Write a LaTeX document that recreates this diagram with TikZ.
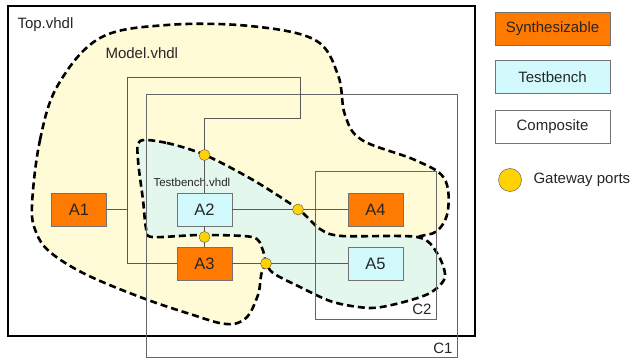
\documentclass[tikz,border=0pt]{standalone}
\usepackage{fontspec}
\setmainfont{Liberation Sans}
\begin{document}
\begin{tikzpicture}[x=1pt,y=-1pt,
  font=\fontsize{15}{17}\selectfont,
  txt/.style={text=black!85},
  wire/.style={draw=black!65,line width=0.8pt},
  frame/.style={draw=black!60,line width=0.9pt},
  blob/.style={draw=black,line width=2.6pt,dash pattern=on 7pt off 4pt},
  synth/.style={draw=black!55,line width=0.8pt,fill=orange8,minimum width=55pt,minimum height=33pt,inner sep=0pt,font=\fontsize{16.5}{18}\selectfont,text=black!85},
  tbench/.style={synth,fill=cyan8},
  legbox/.style={draw=black!55,line width=0.8pt,minimum width=115pt,minimum height=33pt,inner sep=0pt,text=black!85},
  port/.style={circle,draw=black!60,line width=0.5pt,fill=gold8,minimum size=11pt,inner sep=0pt}
]
\definecolor{orange8}{RGB}{255,122,0}
\definecolor{cyan8}{RGB}{210,250,252}
\definecolor{gold8}{RGB}{255,210,0}
\definecolor{model8}{RGB}{255,251,214}
\definecolor{tb8}{RGB}{228,247,236}

\useasboundingbox (0,0) rectangle (632,358);
\fill[white] (0,0) rectangle (632,358);

% top-level design frame
\node[draw=black,line width=2.4pt,minimum width=467pt,minimum height=330pt,inner sep=0pt,anchor=north west] (top) at (7,5) {};
\node[txt,anchor=west] (toplbl) at (14,25) {Top.vhdl};

% model region (its lower right part lies under the testbench region)
\path[blob,fill=model8] plot[smooth cycle,tension=0.6] coordinates {
  (32,205) (40,140) (58,85) (100,38) (167,25) (250,26) (315,40)
  (338,75) (345,115) (362,140) (415,160) (444,178) (448,210) (437,231)
  (415,238) (380,256) (300,274) (266,266)
  (258,295) (246,318) (226,324) (190,314) (140,297) (85,274) (50,252) (36,232)};

% testbench region
\path[blob,fill=tb8] plot[smooth cycle,tension=0.5] coordinates {
  (140,141) (167,143) (205,155) (253,180) (298,209) (320,229) (342,236)
  (417,237) (437,253) (445,277) (430,293) (400,303) (370,308) (333,302)
  (300,287) (273,273) (266,262) (262,248) (252,237) (200,235) (152,237)
  (146,228) (143,200) (138,160)};

\node[txt,anchor=west,font=\fontsize{11.5}{13}\selectfont] (tblbl) at (150,182) {Testbench.vhdl};
\node[txt,anchor=west] (mdllbl) at (102,53) {Model.vhdl};

% composite frames
\node[frame,minimum width=311pt,minimum height=263pt,inner sep=0pt,anchor=north west] (c1) at (146,94) {};
\node[txt,anchor=south east] (c1lbl) at (456,357) {C1};
\node[frame,minimum width=121pt,minimum height=148pt,inner sep=0pt,anchor=north west] (c2) at (315,171) {};
\node[txt,anchor=south east] (c2lbl) at (435,318) {C2};

% blocks
\node[synth] (a1) at (79,209.5) {A1};
\node[tbench] (a2) at (204.5,209.5) {A2};
\node[synth] (a3) at (204.5,263.5) {A3};
\node[synth] (a4) at (375.5,209.5) {A4};
\node[tbench] (a5) at (375.5,263.5) {A5};

% gateway port positions
\coordinate (p1) at (204.5,155);
\coordinate (p2) at (298,209.5);
\coordinate (p3) at (204.5,237);
\coordinate (p4) at (266,263.5);

% bends of the long net
\coordinate (b1) at (127,209.5);
\coordinate (b2) at (127,77);
\coordinate (b3) at (300,77);
\coordinate (b4) at (300,118);
\coordinate (b5) at (204.5,118);
\coordinate (b6) at (127,263.5);

% nets
\draw[wire] (a1.east) -- (b1) -- (b2) -- (b3) -- (b4) -- (b5) -- (p1) -- (a2.north);
\draw[wire] (b1) -- (b6) -- (a3.west);
\draw[wire] (a2.east) -- (p2) -- (a4.west);
\draw[wire] (a2.south) -- (p3) -- (a3.north);
\draw[wire] (a3.east) -- (p4) -- (a5.west);

% gateway ports on top of the nets
\node[port] (g1) at (p1) {};
\node[port] (g2) at (p2) {};
\node[port] (g3) at (p3) {};
\node[port] (g4) at (p4) {};

% legend
\node[legbox,fill=orange8] (lsyn) at (552.5,28.5) {Synthesizable};
\node[legbox,fill=cyan8] (ltb) at (552.5,77) {Testbench};
\node[legbox,fill=white] (lcomp) at (552.5,126.5) {Composite};
\node[port,minimum size=23pt] (lport) at (510,180) {};
\node[txt,anchor=west] (lportlbl) at (530,180) {Gateway ports};
\end{tikzpicture}
\end{document}
